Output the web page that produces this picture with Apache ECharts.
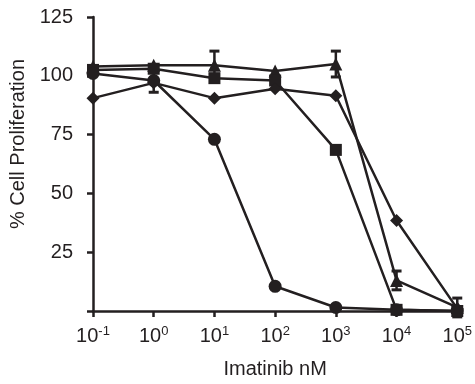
<!DOCTYPE html>
<html>
<head>
<meta charset="utf-8">
<script src="https://cdn.jsdelivr.net/npm/echarts@6/dist/echarts.min.js"></script>
<style>
  html, body { margin: 0; padding: 0; background: #fff; }
  #chart { width: 475px; height: 384px; }
</style>
</head>
<body>
<div id="chart"></div>
<script>
// imatinib concentrations (nM)
const doses = [0.1, 1, 10, 100, 1000, 10000, 100000];

// % cell proliferation per line, with +/- error
const circleVals = [101, 98, 73, 10.5, 1.5, 0.5, 0];
const circleErr = [1, 5, 1, 1, 1, 0.5, 0.5];
const squareVals = [102.5, 103, 99, 98, 68.5, 0.5, 0];
const squareErr = [1, 1, 2, 1, 1, 0.5, 0.5];
const diamondVals = [90.5, 97, 90.5, 94.5, 91.5, 38.5, 1];
const diamondErr = [1, 1, 1, 1, 1, 1, 1];
const triangleVals = [104, 104.5, 104.5, 102, 105, 13, 1.5];
const triangleErr = [1, 1, 6, 2.5, 5.5, 4, 4];

const INK = '#231f20';
const FONT = "'Liberation Sans', Arial, sans-serif";
const DIAMOND = 'path://M0,-1L1,0L0,1L-1,0Z';

const chart = echarts.init(document.getElementById('chart'));

function lineSeries(vals, symbol, size) {
  return {
    type: 'line',
    data: doses.map((d, i) => [d, vals[i]]),
    symbol: symbol,
    symbolSize: size,
    showAllSymbol: true,
    lineStyle: { color: INK, width: 2.5 },
    itemStyle: { color: INK, borderWidth: 0 },
    z: 3,
    animation: false
  };
}

function errSeries(vals, errs) {
  return {
    type: 'custom',
    data: doses.map((d, i) => [d, vals[i] - errs[i], vals[i] + errs[i]]),
    renderItem: (params, api) => {
      const top = api.coord([api.value(0), api.value(2)]);
      const bot = api.coord([api.value(0), api.value(1)]);
      // bars shorter than the marker stay hidden behind it
      if (bot[1] - top[1] < 12) return null;
      const w = 5;
      const cap = { stroke: INK, lineWidth: 3 };
      return {
        type: 'group',
        children: [
          { type: 'line', shape: { x1: top[0], y1: top[1], x2: bot[0], y2: bot[1] }, style: { stroke: INK, lineWidth: 2.5 } },
          { type: 'line', shape: { x1: top[0] - w, y1: top[1], x2: top[0] + w, y2: top[1] }, style: cap },
          { type: 'line', shape: { x1: bot[0] - w, y1: bot[1], x2: bot[0] + w, y2: bot[1] }, style: cap }
        ]
      };
    },
    z: 2,
    animation: false
  };
}

const option = {
  backgroundColor: '#fff',
  animation: false,
  grid: { left: 93, right: 17, top: 17, bottom: 71 },
  xAxis: {
    type: 'log',
    logBase: 10,
    min: 0.1,
    max: 100000,
    name: 'Imatinib nM',
    nameLocation: 'middle',
    nameGap: 48,
    nameTextStyle: { fontFamily: FONT, fontSize: 20, color: INK },
    axisLine: { lineStyle: { color: INK, width: 2.5 } },
    axisTick: { show: true, length: 6, lineStyle: { color: INK, width: 2.5 } },
    splitLine: { show: false },
    minorTick: { show: false },
    axisLabel: {
      margin: 14,
      color: INK,
      formatter: (v) => '{b|10}{s|' + Math.round(Math.log10(v)) + '}',
      rich: {
        b: { fontFamily: FONT, fontSize: 20, color: INK },
        s: { fontFamily: FONT, fontSize: 13, color: INK, verticalAlign: 'top', padding: [0, 0, 10, 0] }
      }
    }
  },
  yAxis: {
    type: 'value',
    min: 0,
    max: 125,
    interval: 25,
    name: '% Cell Proliferation',
    nameLocation: 'middle',
    nameGap: 62,
    nameTextStyle: { fontFamily: FONT, fontSize: 20, color: INK, padding: [0, 0, 0, 40] },
    axisLine: { show: true, lineStyle: { color: INK, width: 2.5 } },
    axisTick: { show: true, length: 6, lineStyle: { color: INK, width: 2.5 } },
    splitLine: { show: false },
    axisLabel: {
      margin: 20,
      fontFamily: FONT,
      fontSize: 20,
      color: INK,
      formatter: (v) => (v === 0 ? '' : String(v))
    }
  },
  series: [
    errSeries(triangleVals, triangleErr),
    errSeries(squareVals, squareErr),
    errSeries(diamondVals, diamondErr),
    errSeries(circleVals, circleErr),
    lineSeries(triangleVals, 'triangle', 13),
    lineSeries(squareVals, 'rect', 12),
    lineSeries(diamondVals, DIAMOND, 13),
    lineSeries(circleVals, 'circle', 13)
  ]
};

chart.setOption(option);
</script>
</body>
</html>
